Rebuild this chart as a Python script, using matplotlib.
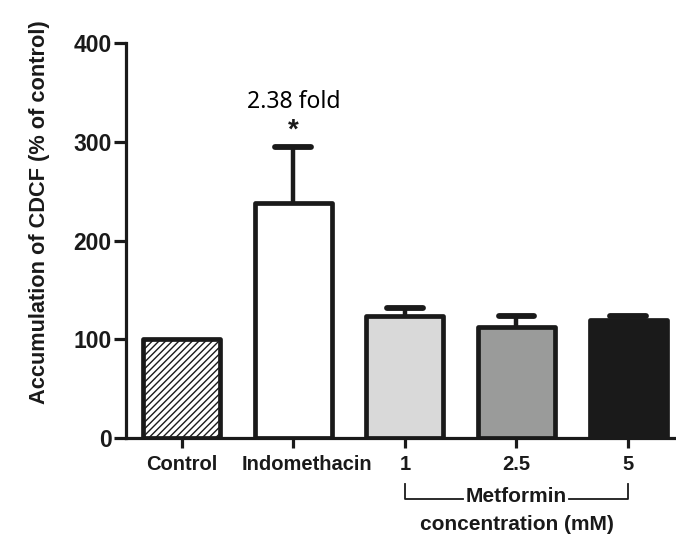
import matplotlib
matplotlib.use('Agg')
import matplotlib.pyplot as plt
import matplotlib.transforms as mtransforms

groups = ['Control', 'Indomethacin', '1', '2.5', '5']
means = [100, 238, 124, 112, 119]
sems = [0, 57, 8, 12, 5]
fills = ['white', 'white', '#d9d9d9', '#9a9b9a', '#1a1a1a']
hatches = ['/////', '', '', '', '']

ink = '#1a1a1a'
plt.rcParams['hatch.linewidth'] = 1.0
plt.rcParams['hatch.color'] = ink

fig = plt.figure(figsize=(6.76, 5.36), dpi=100)
ax = fig.add_axes([126 / 676, 98 / 536, 550 / 676, 395 / 536])

x = list(range(len(groups)))
# upper error bars only (stem + cap), drawn under the bars
for xi, m, s in zip(x, means, sems):
    if s <= 0:
        continue
    ax.vlines(xi, m, m + s, color=ink, lw=3.2, zorder=1)
    ax.hlines(m + s, xi - 0.16, xi + 0.16, color=ink, lw=4.2,
              capstyle='round', zorder=1)
for xi, m, fc, h in zip(x, means, fills, hatches):
    ax.bar(xi, m, width=0.69, color=fc, edgecolor=ink, linewidth=3.4,
           hatch=h, joinstyle='round', zorder=2)

ax.set_xlim(-0.5, 4.43)
ax.set_ylim(0, 400)
ax.set_yticks([0, 100, 200, 300, 400])
ax.set_xticks(x)
ax.set_xticklabels(groups)

for s in ['top', 'right']:
    ax.spines[s].set_visible(False)
for s in ['left', 'bottom']:
    ax.spines[s].set_linewidth(2.3)
    ax.spines[s].set_color(ink)
    ax.spines[s].set_zorder(3)

ax.tick_params(axis='y', length=8.5, width=2.3, color=ink, pad=2)
ax.tick_params(axis='x', length=7, width=2.3, color=ink, pad=5)
for lab in ax.get_yticklabels():
    lab.set_fontfamily('Liberation Sans')
    lab.set_fontweight('bold')
    lab.set_fontsize(16.5)
    lab.set_color(ink)
for lab in ax.get_xticklabels():
    lab.set_fontfamily('Liberation Sans')
    lab.set_fontweight('bold')
    lab.set_fontsize(14.5)
    lab.set_color(ink)

# nudge the long label right so it clears "Control"
shift = mtransforms.ScaledTranslation(14 / 100, 0, fig.dpi_scale_trans)
lab_indo = ax.get_xticklabels()[1]
lab_indo.set_transform(lab_indo.get_transform() + shift)

fig.text(40 / 676, 1 - 212 / 536, 'Accumulation of CDCF (% of control)',
         rotation=90, ha='center', va='center', fontsize=15.7,
         fontweight='bold', family='Liberation Sans', color=ink)

# fold change annotation over indomethacin
ax.text(1, 340, '2.38 fold', ha='center', va='center', fontsize=16.5,
        family='Noto Sans', color='black')
ax.text(1, 311, '*', ha='center', va='center', fontsize=20,
        fontweight='bold', family='Liberation Sans', color=ink)

# bracket under the metformin doses
fx0 = ax.transData.transform((2, 0))[0] / 676
fx1 = ax.transData.transform((4, 0))[0] / 676
ytop = 1 - 484 / 536
ybot = 1 - 499 / 536
lw = 1.3
fig.add_artist(plt.Line2D([fx0, fx0, 463 / 676], [ytop, ybot, ybot],
                          color=ink, lw=lw, transform=fig.transFigure))
fig.add_artist(plt.Line2D([569 / 676, fx1, fx1], [ybot, ybot, ytop],
                          color=ink, lw=lw, transform=fig.transFigure))
fig.text((fx0 + fx1) / 2, 1 - 496 / 536, 'Metformin', ha='center',
         va='center', fontsize=15, fontweight='bold',
         family='Liberation Sans', color=ink)
fig.text((fx0 + fx1) / 2, 1 - 525 / 536, 'concentration (mM)', ha='center',
         va='center', fontsize=15, fontweight='bold',
         family='Liberation Sans', color=ink)

fig.savefig('out.png', dpi=100)
